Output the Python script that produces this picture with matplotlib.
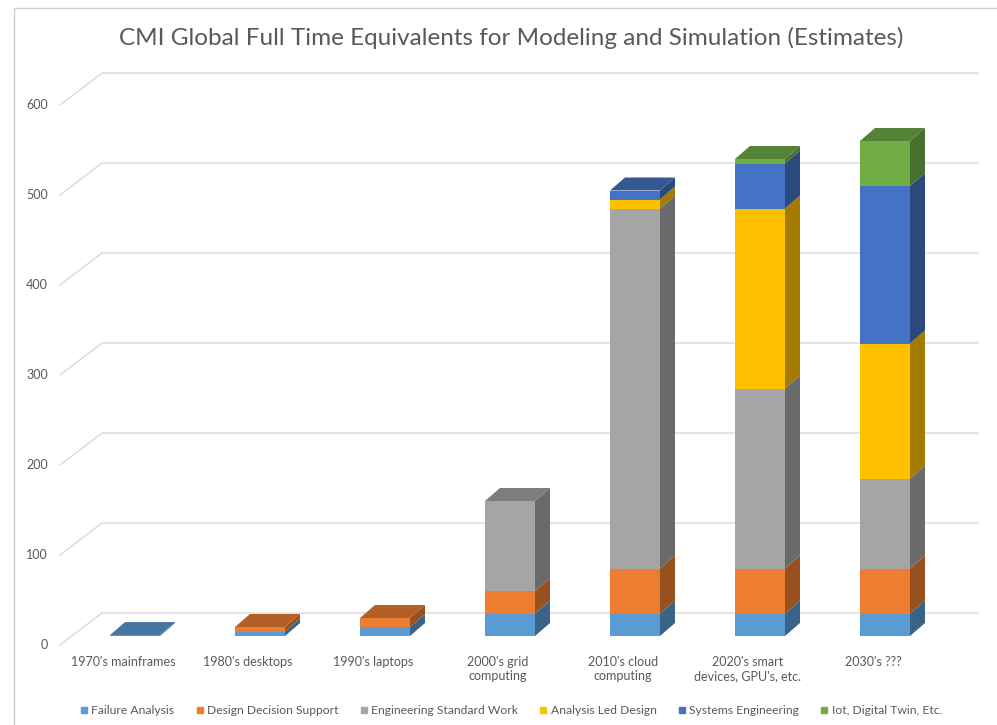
import matplotlib
matplotlib.use("Agg")
import matplotlib.pyplot as plt
from matplotlib.patches import Polygon, Rectangle
from matplotlib.lines import Line2D
from matplotlib.colors import to_rgb

plt.rcParams['font.family'] = ['Lato', 'DejaVu Sans']

# data
categories = ["1970's mainframes", "1980's desktops", "1990's laptops",
              "2000's grid\ncomputing", "2010's cloud\ncomputing",
              "2020's smart\ndevices, GPU's, etc.", "2030's ???"]
series_names = ['Failure Analysis', 'Design Decision Support',
                'Engineering Standard Work', 'Analysis Led Design',
                'Systems Engineering', 'Iot, Digital Twin, Etc.']
failure_analysis = [1, 5, 10, 25, 25, 25, 25]
design_decision = [0, 5, 10, 25, 50, 50, 50]
standard_work = [0, 0, 0, 100, 400, 200, 100]
analysis_led = [0, 0, 0, 0, 10, 200, 150]
systems_eng = [0, 0, 0, 0, 10, 50, 175]
iot_twin = [0, 0, 0, 0, 0, 5, 50]
series = [failure_analysis, design_decision, standard_work,
          analysis_led, systems_eng, iot_twin]
colors = ['#5B9BD5', '#ED7D31', '#A5A5A5', '#FFC000', '#4472C4', '#70AD47']
yticks = [0, 100, 200, 300, 400, 500, 600]

# fake 3d geometry (x in category units, y in value units)
W, H, DPI = 997, 725, 100
x_px, x0_px = 125.0, 135.0      # pixels per category, first bar centre
y_px, y0_px = 0.9, 636.0        # pixels per unit, front baseline
bar_w = 50 / x_px
dx, dy = 15 / x_px, 13 / y_px            # bar depth
wall_dy = 23 / y_px                      # back wall behind the bars
grid_x0, grid_x1 = (102 - x0_px) / x_px, (978 - x0_px) / x_px
diag_x = (60 - x0_px) / x_px
diag_dy = 32 / y_px


def shade(c, f):
    r, g, b = to_rgb(c)
    return (r * f, g * f, b * f)


fig = plt.figure(figsize=(W / DPI, H / DPI), dpi=DPI)
ax = fig.add_axes([0, 0, 1, 1])
ax.set_xlim(-x0_px / x_px, (W - x0_px) / x_px)
ax.set_ylim((y0_px - H) / y_px, y0_px / y_px)
ax.axis('off')

# chart frame (only left and top edges fall inside the image)
fig.add_artist(Rectangle((14 / W, -0.1), 1.2, 1.1 + (H - 8) / H - 1, transform=fig.transFigure,
                         fill=False, ec='#D0D0D0', lw=1.0))

# back wall gridlines with the diagonal floor edge
for v in yticks:
    yb = v + wall_dy
    ax.plot([diag_x, grid_x0, grid_x1], [yb - diag_dy, yb, yb],
            color='#D9D9D9', lw=1.0, zorder=1, solid_joinstyle='miter')
    ax.text(diag_x - 12 / x_px, yb - diag_dy, str(v), ha='right', va='center',
            fontsize=9, color='#595959')

# stacked bars
for i in range(len(categories)):
    bottom = 0
    total = sum(s[i] for s in series)
    for k, s in enumerate(series):
        v = s[i]
        if v <= 0:
            continue
        top = bottom + v
        xl, xr = i - bar_w / 2, i + bar_w / 2
        ax.bar(i, v, bar_w, bottom=bottom, color=colors[k], lw=0, zorder=3)
        ax.add_patch(Polygon([(xr, bottom), (xr + dx, bottom + dy),
                              (xr + dx, top + dy), (xr, top)],
                             closed=True, fc=shade(colors[k], 0.64), lw=0, zorder=3))
        if top >= total:
            ax.add_patch(Polygon([(xl, top), (xl + dx, top + dy),
                                  (xr + dx, top + dy), (xr, top)],
                                 closed=True, fc=shade(colors[k], 0.76), lw=0, zorder=3))
        bottom = top
    ax.text(i - 12 / x_px, -20 / y_px, categories[i], ha='center', va='top',
            fontsize=9, color='#595959', linespacing=1.25)

fig.text(511 / W, 1 - 38 / H, 'CMI Global Full Time Equivalents for Modeling and Simulation (Estimates)',
         ha='center', va='center', fontsize=17.5, color='#595959')

handles = [Line2D([], [], marker='s', ls='', color=c, markersize=5) for c in colors]
leg = fig.legend(handles, series_names, loc='center', bbox_to_anchor=(510 / W, 14 / H),
                 ncol=6, frameon=False, fontsize=8.7, handletextpad=0.1,
                 columnspacing=1.6, handlelength=1.0)
for t in leg.get_texts():
    t.set_color('#595959')

fig.savefig('out.png', dpi=DPI)
